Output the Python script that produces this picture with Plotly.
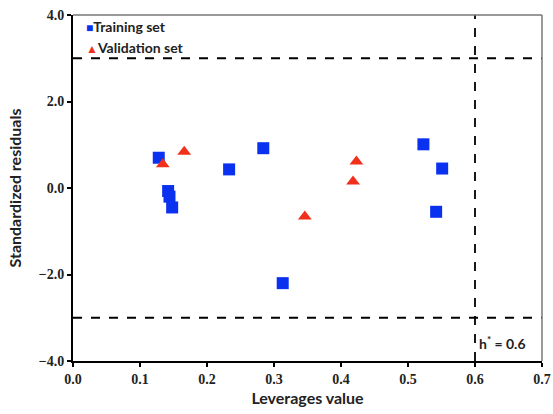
import plotly.graph_objects as go

train_x = [0.128, 0.142, 0.144, 0.148, 0.233, 0.284, 0.313, 0.523, 0.542, 0.551]
train_y = [0.70, -0.07, -0.20, -0.45, 0.43, 0.92, -2.20, 1.01, -0.55, 0.45]
val_x = [0.134, 0.166, 0.346, 0.418, 0.423]
val_y = [0.55, 0.84, -0.66, 0.15, 0.61]
h_star = 0.6
resid_limit = 3.0
x_ticks = [0.0, 0.1, 0.2, 0.3, 0.4, 0.5, 0.6, 0.7]
y_ticks = [-4.0, -2.0, 0.0, 2.0, 4.0]

BLUE = "#0a30f0"
RED = "#f0301a"

fig = go.Figure()
fig.add_trace(go.Scatter(x=train_x, y=train_y, mode="markers", name="Training set",
                         marker=dict(symbol="square", size=12, color=BLUE)))
fig.add_trace(go.Scatter(x=val_x, y=val_y, mode="markers", name="Validation set",
                         marker=dict(symbol="triangle-up", size=12, color=RED)))

for yv in (resid_limit, -resid_limit):
    fig.add_shape(type="line", xref="x domain", yref="y", x0=0, x1=1, y0=yv, y1=yv,
                  line=dict(color="black", width=1.8, dash="dash"))
fig.add_shape(type="line", xref="x", yref="y domain", x0=h_star, x1=h_star, y0=0, y1=1,
              line=dict(color="black", width=1.8, dash="dash"))
# lighter top/right frame
fig.add_shape(type="line", xref="x domain", yref="y domain", x0=0, x1=1, y0=1, y1=1,
              line=dict(color="#777", width=1.5))
fig.add_shape(type="line", xref="x domain", yref="y domain", x0=1, x1=1, y0=0, y1=1,
              line=dict(color="#777", width=1.5))

fig.add_annotation(x=h_star, y=-3.58, xref="x", yref="y", text="h<sup>*</sup> = 0.6",
                   showarrow=False, xanchor="left", yanchor="middle", xshift=2,
                   font=dict(family="Lato", size=14, color="#222", weight="bold"))

# legend drawn as text entries inside the plot
legend_font = dict(family="Lato", size=14, color="#222", weight="bold")
fig.add_annotation(x=0.024, y=0.968, xref="x domain", yref="y domain", xanchor="left",
                   yanchor="middle", showarrow=False, font=legend_font,
                   text=f"<span style='color:{BLUE};font-size:12px'>■</span>Training set")
fig.add_annotation(x=0.024, y=0.905, xref="x domain", yref="y domain", xanchor="left",
                   yanchor="middle", showarrow=False, font=legend_font,
                   text=f"<span style='color:{RED};font-size:12px'>▲</span>Validation set")

SERIF = "Liberation Serif"
tickfont = dict(family=SERIF, size=14, color="#222", weight="bold")
fig.update_layout(
    width=553, height=414,
    margin=dict(l=73, r=11, t=15, b=53),
    plot_bgcolor="white", paper_bgcolor="white",
    font=dict(family=SERIF, size=14, color="#222"),
    showlegend=False,
    xaxis=dict(range=[0, 0.7], tickvals=x_ticks, tickformat=".1f", ticks="outside",
               ticklen=4, tickwidth=1.5, tickcolor="black", showline=True, linecolor="black",
               linewidth=2, showgrid=False, zeroline=False, tickfont=tickfont, automargin=False,
               title=dict(text="Leverages value", standoff=7,
                          font=dict(family="Lato", size=16, color="#222", weight="bold"))),
    yaxis=dict(range=[-4, 4], tickvals=y_ticks, tickformat=".1f", ticks="outside",
               ticklen=4, tickwidth=1.5, tickcolor="black", showline=True, linecolor="black",
               linewidth=2, showgrid=False, zeroline=False, tickfont=tickfont, automargin=False,
               title=dict(text="Standardized residuals", standoff=13,
                          font=dict(family="Lato", size=16, color="#222", weight="bold"))),
)

fig.write_html("out.html", config={"displayModeBar": False},
               post_script="document.body.style.margin='0px';")
